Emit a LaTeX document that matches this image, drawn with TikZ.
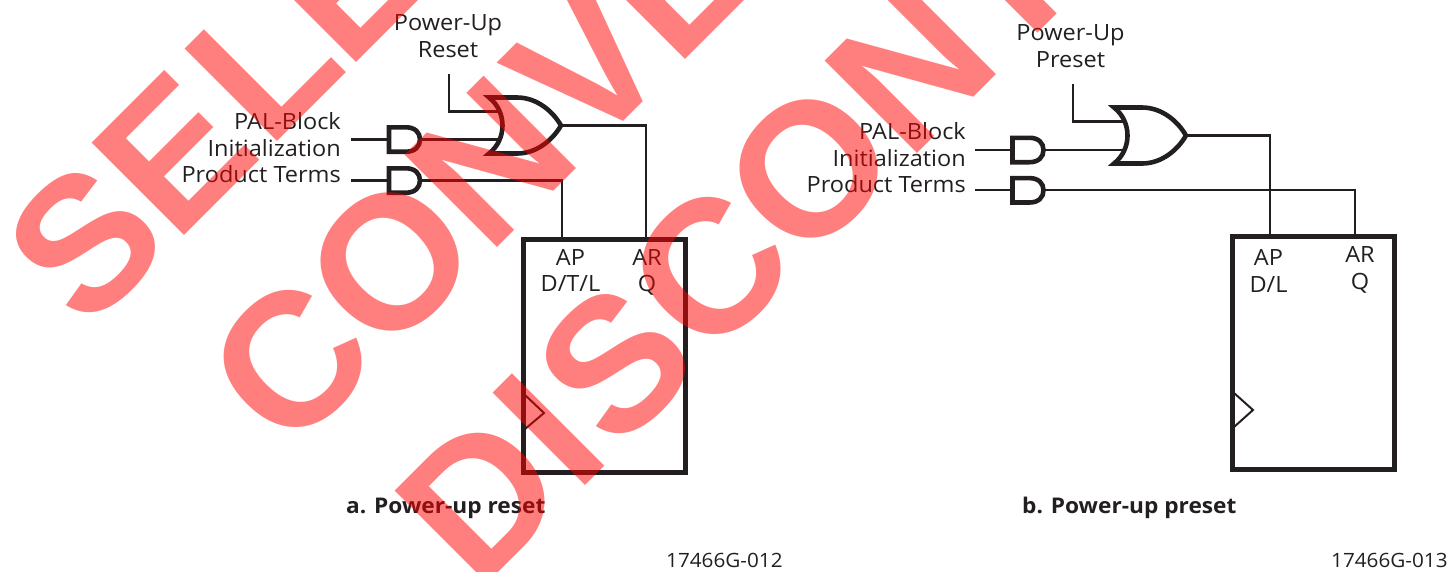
\documentclass[tikz,border=0pt]{standalone}
\usepackage{fontspec}
\setmainfont[FakeStretch=1.05]{Open Sans}
\newfontfamily\wmfont{Liberation Sans Bold}
\usetikzlibrary{calc}
\definecolor{ink}{HTML}{231F20}
\tikzset{
  x=1pt,y=-1pt,
  wire/.style={draw=ink,line width=2.3pt,line join=miter},
  gate/.style={draw=ink,line width=4.6pt,line join=miter},
  boxframe/.style={draw=ink,line width=5pt,minimum width=162pt,minimum height=233pt,inner sep=0pt,outer sep=0pt},
  clockmark/.style={draw=ink,line width=2pt},
  lbl/.style={inner sep=0pt,text=ink,font=\fontsize{22.4}{26}\selectfont},
  lblr/.style={lbl,anchor=base east},
  lblc/.style={lbl,anchor=base},
  capt/.style={inner sep=0pt,text=ink,anchor=base west,font=\fontsize{21.6}{26}\selectfont\bfseries},
  idtext/.style={lbl,anchor=base west,font=\fontsize{19.7}{24}\selectfont},
  wm/.style={inner sep=0pt,anchor=base,rotate=45,text=red,text opacity=.5,font=\fontsize{190}{200}\wmfont},
  andgate/.pic={
    \draw[gate] (0,-12.2) -- (17,-12.2) .. controls (26,-12.2) and (31,-7) .. (31,0) .. controls (31,7) and (26,12.2) .. (17,12.2) -- (0,12.2) -- cycle;
    \coordinate (-in) at (0,0);
    \coordinate (-out) at (31,0);
  },
  orgate/.pic={
    \draw[gate] (0,-28) -- (28,-28) .. controls (48,-28) and (64,-14) .. (72,0) .. controls (64,14) and (48,28) .. (28,28) -- (0,28) .. controls (18,14) and (18,-14) .. (0,-28) -- cycle;
    \coordinate (-a) at (11,-14);
    \coordinate (-b) at (12,14);
    \coordinate (-out) at (72,0);
  }
}
\begin{document}
\begin{tikzpicture}
\useasboundingbox (0,0) rectangle (1448,571);
\clip (0,0) rectangle (1448,571);

% --- left circuit
\node[lblc] (lpu) at (448,30) {Power-Up};
\node[lblc] (lrs) at (448,57) {Reset};
\node[lblr] (lpal) at (341,129.5) {PAL-Block};
\node[lblr] (lini) at (341,156) {Initialization};
\node[lblr] (lprd) at (341,182.7) {Product Terms};
\pic (la) at (389,139.5) {andgate};
\pic (lb) at (389,180.5) {andgate};
\pic (lo) at (489,125.5) {orgate};
\coordinate (lai) at (351,139.5);
\coordinate (lbi) at (351,180.5);
\coordinate (lpw) at (449,74);
\node[boxframe,draw] (lff) at (604,355.5) {};
\node[lblc] (lap) at (570.5,265) {AP};
\node[lblc] (ld) at (570.5,291) {D/T/L};
\node[lblc] (lar) at (647,265) {AR};
\node[lblc] (lq) at (647,291) {Q};
\coordinate (lapin) at (561.7,239);
\coordinate (larin) at (646,239);
\draw[wire] (lai) -- (la-in);
\draw[wire] (lbi) -- (lb-in);
\draw[wire] (la-out) -- (la-out -| lo-b);
\draw[wire] (lpw) |- (lo-a);
\draw[wire] (lo-out) -| (larin);
\draw[wire] (lb-out) -| (lapin);
\coordinate (lc1) at (525,395);
\coordinate (lc2) at (544,413);
\coordinate (lc3) at (525,429);
\draw[clockmark] (lc1) -- (lc2) -- (lc3);
\node[capt] (lcap) at (346,513) {a. Power-up reset};
\node[idtext] (lid) at (666,567) {17466G-012};

% --- right circuit
\node[lblc] (rpu) at (1070.5,40) {Power-Up};
\node[lblc] (rrs) at (1070.5,67) {Preset};
\node[lblr] (rpal) at (966,139.5) {PAL-Block};
\node[lblr] (rini) at (966,166.5) {Initialization};
\node[lblr] (rprd) at (966,192.7) {Product Terms};
\pic (ra) at (1012.5,150) {andgate};
\pic (rb) at (1012.5,190.3) {andgate};
\pic (ro) at (1114,135.5) {orgate};
\coordinate (rai) at (975,150);
\coordinate (rbi) at (975,190.3);
\coordinate (rpw) at (1073,84);
\node[boxframe,draw] (rff) at (1313,352.5) {};
\node[lblc] (rap) at (1268.5,265) {AP};
\node[lblc] (rd) at (1268.5,292) {D/L};
\node[lblc] (rar) at (1360,262) {AR};
\node[lblc] (rq) at (1360,289) {Q};
\coordinate (rapin) at (1270,236);
\coordinate (rarin) at (1355,236);
\draw[wire] (rai) -- (ra-in);
\draw[wire] (rbi) -- (rb-in);
\draw[wire] (ra-out) -- (ra-out -| ro-b);
\draw[wire] (rpw) |- (ro-a);
\draw[wire] (ro-out) -| (rapin);
\draw[wire] (rb-out) -| (rarin);
\coordinate (rc1) at (1234,393);
\coordinate (rc2) at (1253,410);
\coordinate (rc3) at (1234,427);
\draw[clockmark] (rc1) -- (rc2) -- (rc3);
\node[capt] (rcap) at (1022,513) {b. Power-up preset};
\node[idtext] (rid) at (1331,567) {17466G-013};

% --- watermark
\node[wm] (w1a) at (131,289) {S};
\node[wm] (w1b) at (220,200) {E};
\node[wm] (w1c) at (310,109) {L};
\node[wm] (w1d) at (392,27) {E};
\node[wm] (w2a) at (337,408) {C};
\node[wm] (w2b) at (437,308) {O};
\node[wm] (w2c) at (537,208) {N};
\node[wm] (w2d) at (633,112) {V};
\node[wm] (w2e) at (721,24) {E};
\node[wm] (w3a) at (527,544) {D};
\node[wm] (w3b) at (595.5,475.5) {I};
\node[wm] (w3c) at (661,410) {S};
\node[wm] (w3d) at (756,315) {C};
\node[wm] (w3e) at (856,215) {O};
\node[wm] (w3f) at (956.5,114) {N};
\node[wm] (w3g) at (1048,23) {T};
\end{tikzpicture}
\end{document}
